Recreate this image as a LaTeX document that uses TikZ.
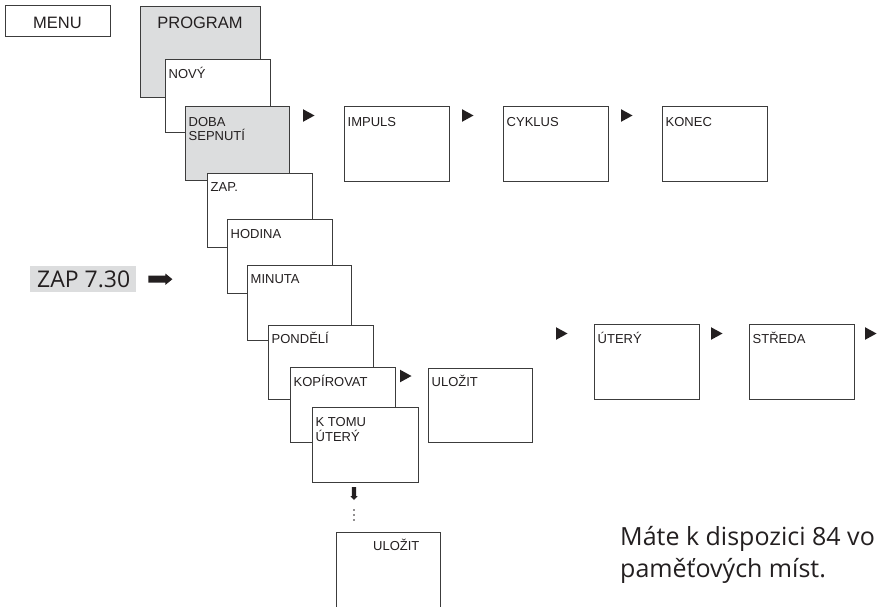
\documentclass[tikz,border=0pt]{standalone}
\usepackage{fontspec}
\setmainfont{Liberation Sans}
\newfontfamily\frut{Open Sans}
\definecolor{ink}{HTML}{231F20}
\definecolor{linec}{HTML}{3C3C3C}
\definecolor{boxgray}{HTML}{DCDDDE}
\tikzset{
  box/.style={draw=linec, line width=1pt, inner sep=0pt, outer sep=0pt, anchor=north west},
  lbl/.style={inner sep=0pt, anchor=base west, text=ink, font=\fontsize{13}{14}\selectfont},
  big/.style={inner sep=0pt, anchor=base, text=ink, font=\fontsize{16.5}{18}\selectfont},
  frt/.style={inner sep=0pt, anchor=base west, text=ink},
}
\newcommand\bx[6]{\node[box, fill=#6, minimum width={#4pt-#2pt}, minimum height={#5pt-#3pt}] (#1) at (#2,#3) {};}
\newcommand\rtri[1]{\fill[ink] #1 ++(0,-6.3) -- ++(0,12.6) -- ++(11.5,-6.3) -- cycle;}
\begin{document}
\begin{tikzpicture}[x=1pt,y=-1pt]
\useasboundingbox (0,0) rectangle (877,606);
\clip (0,0) rectangle (877,606);
% MENU
\bx{menu}{5}{5}{110}{36}{white}
\node[big] (menut) at ([shift={(0,23)}]menu.north) {MENU};
% PROGRAM chain
\bx{prog}{140}{6}{260}{97}{boxgray}
\node[big] (progt) at ([shift={(0,22)}]prog.north) {PROGRAM};
\bx{nov}{165}{59}{270}{132}{white}
\node[lbl] (novt) at ([shift={(3.5,19)}]nov.north west) {NOVÝ};
\bx{dob}{185}{106}{289}{180}{boxgray}
\node[lbl] (dobt) at ([shift={(3.5,20)}]dob.north west) {DOBA};
\node[lbl] (dobt2) at ([shift={(3.5,34)}]dob.north west) {SEPNUTÍ};
% top row
\bx{imp}{344}{106}{449}{181}{white}
\node[lbl] (impt) at ([shift={(3.5,20)}]imp.north west) {IMPULS};
\bx{cyk}{503}{106}{608}{181}{white}
\node[lbl] (cykt) at ([shift={(3.5,20)}]cyk.north west) {CYKLUS};
\bx{kon}{662}{106}{767}{181}{white}
\node[lbl] (kont) at ([shift={(3.5,20)}]kon.north west) {KONEC};
\rtri{([shift={(14,9.5)}]dob.north east)}
\rtri{([shift={(13,9.5)}]imp.north east)}
\rtri{([shift={(13,9.5)}]cyk.north east)}
% cascade
\bx{zap}{207}{173}{312}{247}{white}
\node[lbl] (zapt) at ([shift={(3.5,18.5)}]zap.north west) {ZAP.};
\bx{hod}{227}{219}{332}{293}{white}
\node[lbl] (hodt) at ([shift={(3.5,19)}]hod.north west) {HODINA};
\bx{min}{247}{265}{351}{340}{white}
\node[lbl] (mint) at ([shift={(3.5,18.5)}]min.north west) {MINUTA};
\bx{pon}{268}{325}{373}{399}{white}
\node[lbl] (pont) at ([shift={(3.5,18.5)}]pon.north west) {PONDĚLÍ};
\bx{kop}{290}{367}{395}{442}{white}
\node[lbl] (kopt) at ([shift={(3.5,19)}]kop.north west) {KOPÍROVAT};
\bx{ulr}{428}{368}{532}{442}{white}
\node[lbl] (ulrt) at ([shift={(3.5,18.5)}]ulr.north west) {ULOŽIT};
\rtri{([shift={(5,9)}]kop.north east)}
\bx{kto}{312}{407}{418}{482}{white}
\node[lbl] (ktot) at ([shift={(3.5,19)}]kto.north west) {K TOMU};
\node[lbl] (ktot2) at ([shift={(3.5,34)}]kto.north west) {ÚTERÝ};
% days row
\bx{ute}{594}{324}{699}{399}{white}
\node[lbl] (utet) at ([shift={(3.5,19)}]ute.north west) {ÚTERÝ};
\bx{str}{749}{324}{854}{399}{white}
\node[lbl] (strt) at ([shift={(3.5,19)}]str.north west) {STŘEDA};
\rtri{([shift={(-38,9.5)}]ute.north west)}
\rtri{([shift={(12,9.5)}]ute.north east)}
\rtri{([shift={(11,9.5)}]str.north east)}
% bottom ULOZIT
\bx{ulb}{336}{532}{440}{640}{white}
\node[lbl] (ulbt) at ([shift={(37,18.5)}]ulb.north west) {ULOŽIT};
% down arrow and dots
\coordinate (da) at (354,487);
\fill[ink] (da) ++(-2.1,0) -- ++(4.2,0) -- ++(0,9) -- ++(1.6,0) -- ++(-3.7,4) -- ++(-3.7,-4) -- ++(1.6,0) -- cycle;
\foreach \yy in {510,515,520} \fill[ink] (354,\yy) circle (0.9);
% ZAP 7.30
\node[fill=boxgray, inner sep=0pt, minimum width=106pt, minimum height=26pt, anchor=north west] (zbg) at (30,266) {};
\node[frt, font=\frut\fontsize{23}{26}\selectfont] (zapv) at ([shift={(7,21)}]zbg.north west) {ZAP 7.30};
\coordinate (za) at ([shift={(12,0)}]zbg.east);
\fill[ink] (za) ++(0,-3.5) -- ++(17,0) -- ++(0,-2.2) -- ++(7,5.7) -- ++(-7,5.7) -- ++(0,-2.2) -- ++(-17,0) -- cycle;
% note
\node[frt, font=\frut\fontsize{25}{32}\selectfont] (note1) at (620,545) {Máte k dispozici 84 vo};
\node[frt, font=\frut\fontsize{25}{32}\selectfont] (note2) at (620,577) {paměťových míst.};
\end{tikzpicture}
\end{document}
